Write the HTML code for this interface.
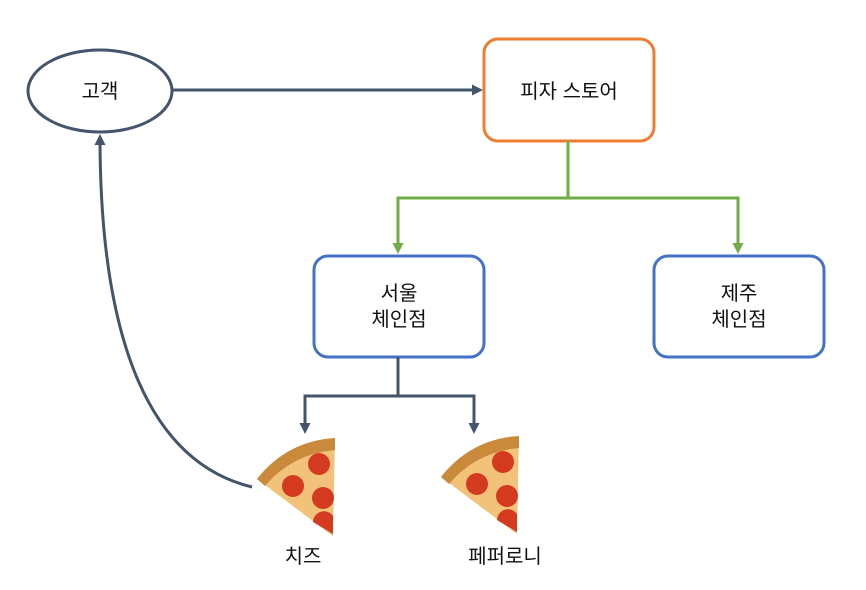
<!DOCTYPE html>
<html><head><meta charset="utf-8"><style>
body{margin:0;background:#fff}
svg text{font-family:"Liberation Sans","Noto Sans CJK KR",sans-serif;font-size:20px;fill:#111;text-anchor:middle}
</style></head><body>
<svg width="866" height="585" viewBox="0 0 866 585" xmlns="http://www.w3.org/2000/svg">
<defs>
<marker id="ad" markerWidth="11" markerHeight="11" refX="8" refY="5.5" orient="auto" markerUnits="userSpaceOnUse"><path d="M0,0 L11,5.5 L0,11 Z" fill="#44546A"/></marker>
<marker id="ag" markerWidth="11" markerHeight="11" refX="8" refY="5.5" orient="auto" markerUnits="userSpaceOnUse"><path d="M0,0 L11,5.5 L0,11 Z" fill="#70AD47"/></marker>
<g id="pz">
<path d="M0,43 Q30,5 78,2 L76,100 Z" fill="#f3c27a"/>
<path d="M0,43 Q30,5 78,2 L78,14 Q35,18 8,50 Z" fill="#c98a3c"/>
<circle cx="62" cy="28" r="11" fill="#d33a1f"/>
<circle cx="36" cy="50" r="11" fill="#d33a1f"/>
<circle cx="66" cy="62" r="11" fill="#d33a1f"/>
<path d="M56,86 A11,11 0 0 1 76,80 L76,98 Z" fill="#d33a1f"/>
</g>
</defs>
<ellipse cx="100" cy="91" rx="72" ry="41" fill="#fff" stroke="#44546A" stroke-width="3"/>
<text x="100" y="98">고객</text>
<rect x="484" y="39" width="170" height="102" rx="14" fill="#fff" stroke="#ED7D31" stroke-width="3"/>
<text x="569" y="98">피자 스토어</text>
<rect x="314" y="256" width="170" height="101" rx="14" fill="#fff" stroke="#4472C4" stroke-width="3"/>
<text x="399" y="300">서울</text><text x="399" y="326">체인점</text>
<rect x="654" y="256" width="170" height="101" rx="14" fill="#fff" stroke="#4472C4" stroke-width="3"/>
<text x="739" y="300">제주</text><text x="739" y="326">체인점</text>
<path d="M172,90 L480,90" stroke="#44546A" stroke-width="3" fill="none" marker-end="url(#ad)"/>
<path d="M568,141 V198 H398 V251" stroke="#70AD47" stroke-width="3" fill="none" marker-end="url(#ag)"/>
<path d="M568,198 H738 V251" stroke="#70AD47" stroke-width="3" fill="none" marker-end="url(#ag)"/>
<path d="M398,357 V396 H305 V431" stroke="#44546A" stroke-width="3" fill="none" marker-end="url(#ad)"/>
<path d="M398,396 H474 V431" stroke="#44546A" stroke-width="3" fill="none" marker-end="url(#ad)"/>
<path d="M252,487 C140,460 100,320 100,137" stroke="#44546A" stroke-width="3" fill="none" marker-end="url(#ad)"/>
<use href="#pz" x="257" y="436"/>
<use href="#pz" x="441" y="434"/>
<text x="303" y="563">치즈</text>
<text x="505" y="563">페퍼로니</text>
</svg>
</body></html>
